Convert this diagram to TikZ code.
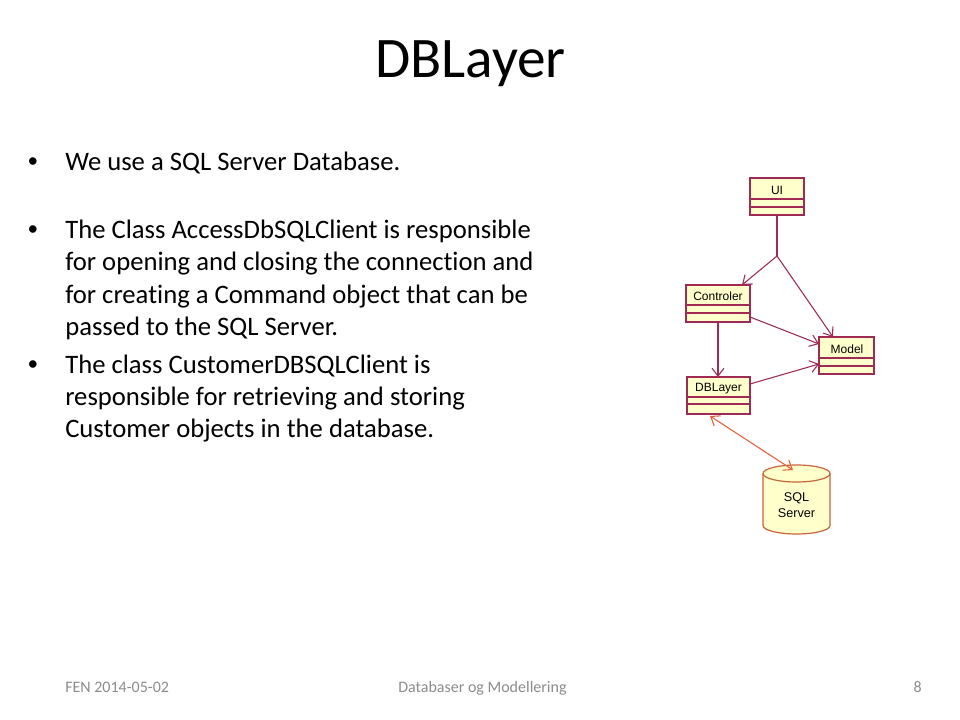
\documentclass[tikz,border=0pt]{standalone}
\usepackage{fontspec}
\setmainfont{Carlito}[Ligatures=NoCommon]
\newfontfamily\umlfont{Liberation Sans}
\usetikzlibrary{arrows.meta,shapes.geometric}
\definecolor{umlred}{HTML}{9E2A55}
\definecolor{umlfill}{HTML}{FFFFCC}
\definecolor{dbline}{HTML}{E2603A}
\definecolor{dbedge}{HTML}{C8643C}
\definecolor{footgray}{HTML}{8C8C8C}
\tikzset{
  cls/.style={draw=umlred,fill=umlfill,line width=0.9pt},
  divider/.style={draw=umlred,line width=0.9pt},
  clslabel/.style={font=\umlfont\fontsize{9}{10}\selectfont,inner sep=0pt},
  dep/.style={draw=umlred,line width=0.8pt,-{Straight Barb[length=6pt,width=9pt]}},
  dblink/.style={draw=dbline,line width=0.8pt,{Straight Barb[length=6pt,width=9pt]}-{Straight Barb[length=6pt,width=9pt]}},
  body/.style={font=\fontsize{20}{24}\selectfont,inner sep=0pt,anchor=base west},
  bullet/.style={font=\fontsize{16}{20}\selectfont,inner sep=0pt,anchor=base},
  foot/.style={font=\fontsize{12}{14}\selectfont,text=footgray,inner sep=0pt,anchor=base}
}
\begin{document}
\begin{tikzpicture}[x=0.75pt,y=-0.75pt]
\useasboundingbox[fill=white] (0,0) rectangle (960,720);
% title
\node[font=\fontsize{43}{50}\selectfont,inner sep=0pt,anchor=base] (title) at (470.5,78) {DBLayer};
% bullets
\node[bullet] (b1) at (33,168) {\textbullet};
\node[body] (t1) at (65,171) {We use a SQL Server Database.};
\node[bullet] (b2) at (33,236) {\textbullet};
\node[body] (t2a) at (65,239) {The Class AccessDbSQLClient is responsible};
\node[body] (t2b) at (65,271) {for opening and closing the connection and};
\node[body] (t2c) at (65,303) {for creating a Command object that can be};
\node[body] (t2d) at (65,335) {passed to the SQL Server.};
\node[bullet] (b3) at (33,370) {\textbullet};
\node[body] (t3a) at (65,373) {The class CustomerDBSQLClient is};
\node[body] (t3b) at (65,405) {responsible for retrieving and storing};
\node[body] (t3c) at (65,437) {Customer objects in the database.};
% footer
\node[foot,anchor=base west] (f1) at (65,692) {FEN 2014-05-02};
\node[foot] (f2) at (482.5,692) {Databaser og Modellering};
\node[foot,anchor=base east] (f3) at (922,692) {8};
% UML classes
\draw[cls] (750,178) rectangle (804,215);
\draw[divider] (750,199) -- (804,199) (750,207) -- (804,207);
\node[clslabel] (ui) at (777,190.5) {UI};
\coordinate (uib) at (777,215);
\draw[cls] (686,285) rectangle (750,322);
\draw[divider] (686,305) -- (750,305) (686,313) -- (750,313);
\node[clslabel] (ctl) at (718,296) {Controler};
\coordinate (ctltop) at (742,285);
\coordinate (ctlright) at (750,317);
\coordinate (ctlbot) at (718,322);
\draw[cls] (819,337) rectangle (874,374);
\draw[divider] (819,358) -- (874,358) (819,366) -- (874,366);
\node[clslabel] (model) at (847,349) {Model};
\coordinate (modtop) at (833,337);
\coordinate (modleft1) at (819,344);
\coordinate (modleft2) at (819,364);
\draw[cls] (687,377) rectangle (750,414);
\draw[divider] (687,397) -- (750,397) (687,404) -- (750,404);
\node[clslabel] (dbl) at (718.5,388.5) {DBLayer};
\coordinate (dbltop) at (718,377);
\coordinate (dblright) at (750,384);
\coordinate (dblbot) at (710,416);
% connectors
\coordinate (fork) at (777,256);
\draw[umlred,line width=2.2pt] (uib) -- (fork);
\draw[dep] (fork) -- (ctltop);
\draw[dep] (fork) -- (modtop);
\draw[dep] (ctlright) -- (modleft1);
\draw[dep] (ctlbot) -- (dbltop);
\draw[dep] (dblright) -- (modleft2);
% database cylinder
\draw[draw=dbedge,fill=umlfill,line width=0.9pt] (763,473.5) -- (763,525.5) arc[start angle=180,end angle=0,x radius=33.5,y radius=8.5] -- (830,473.5) arc[start angle=0,end angle=-180,x radius=33.5,y radius=8.5] -- cycle;
\draw[draw=dbedge,line width=0.9pt] (763,473.5) arc[start angle=180,end angle=0,x radius=33.5,y radius=8.5];
\node[font=\umlfont\fontsize{9.5}{12}\selectfont,align=center,inner sep=0pt] (sql) at (796.5,505) {SQL\\Server};
\coordinate (cyltop) at (793,470);
\draw[dblink] (dblbot) -- (cyltop);
\end{tikzpicture}
\end{document}
